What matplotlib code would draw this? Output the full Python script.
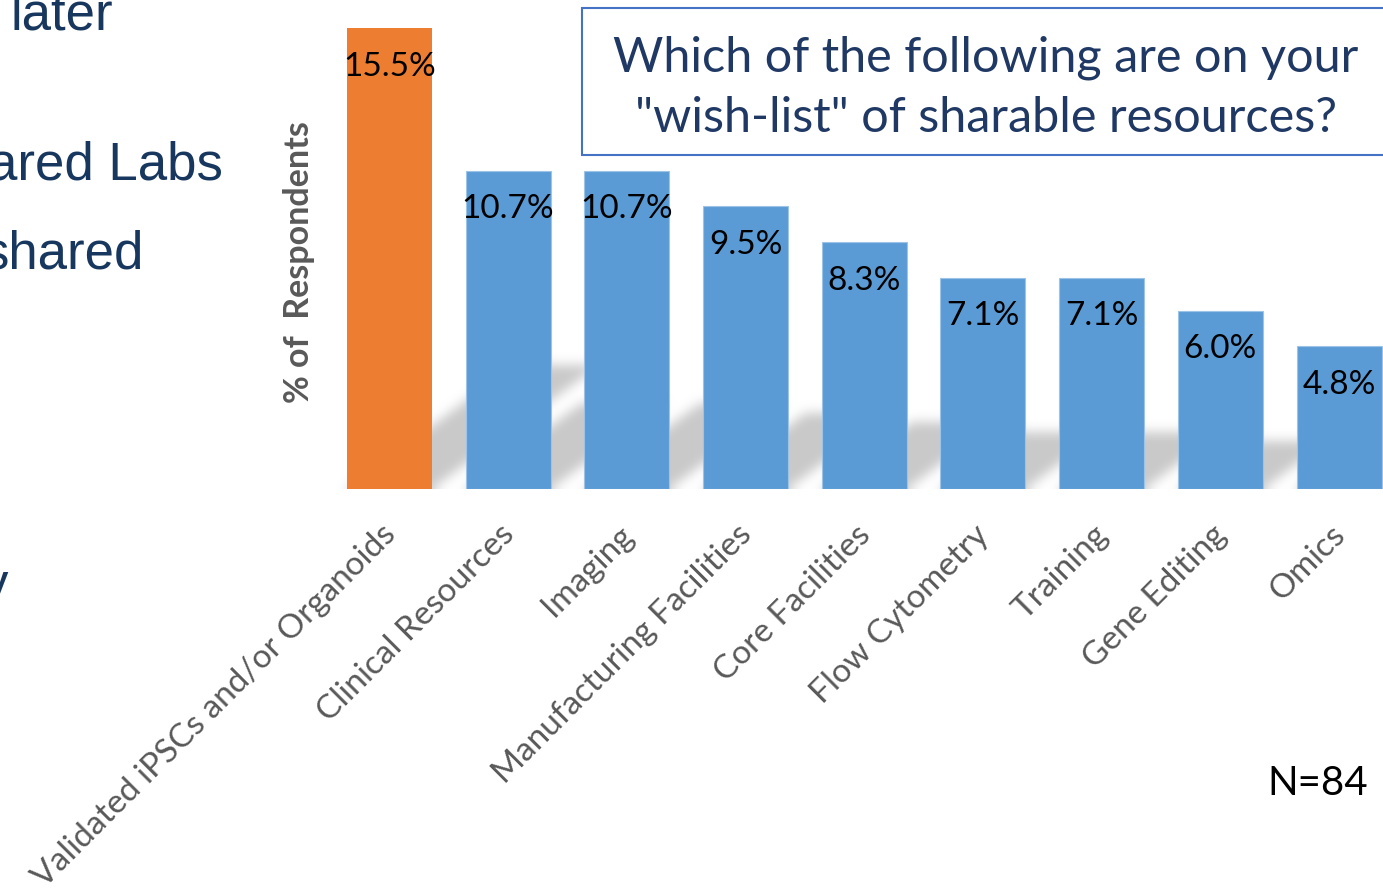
import numpy as np
import matplotlib
matplotlib.use("Agg")
import matplotlib.pyplot as plt
from matplotlib.patches import Rectangle
from matplotlib.transforms import ScaledTranslation

# data
categories = ['Validated iPSCs and/or Organoids', 'Clinical Resources', 'Imaging',
              'Manufacturing Facilities', 'Core Facilities', 'Flow Cytometry',
              'Training', 'Gene Editing', 'Omics']
values = [15.5, 10.7, 10.7, 9.5, 8.3, 7.1, 7.1, 6.0, 4.8]
bar_colors = ['#ED7D31'] + ['#5B9BD5'] * 8
title_lines = ['Which of the following are on your', '"wish-list" of sharable resources?']
slide_text = ['later', 'ared Labs', 'shared', 'y']
n_note = 'N=84'

W, H = 1383, 893
fig = plt.figure(figsize=(W / 100, H / 100), dpi=100)
ax = fig.add_axes([330 / W, (H - 489) / H, (W - 330) / W, 489 / H])

xmin, xmax = -0.5, 8.37
ymin, ymax = 0, 16.44
bw = 0.716
x = np.arange(len(values))

# soft shadow behind the bars (blurred sheared copies of each bar)
ax_w = (W - 330)
ax_h = 489
sx = ax_w / (xmax - xmin)
sy = ax_h / (ymax - ymin)
gx, gy = np.meshgrid(np.arange(ax_w) + 0.5, np.arange(ax_h) + 0.5)
mask = np.zeros((ax_h, ax_w))
for xi, v in zip(x, values):
    t = 0.27 * v * sy
    shift = 1.35
    x0 = (xi - bw / 2 - xmin) * sx
    x1 = (xi + bw / 2 - xmin) * sx
    xs = gx - gy * shift
    inside = (gy <= t) & (xs >= x0) & (xs <= x1)
    mask[inside] = 1.0


def box_blur(a, r):
    for axis in (0, 1):
        pad = [(0, 0), (0, 0)]
        pad[axis] = (r + 1, r)
        c = np.cumsum(np.pad(a, pad, mode='edge'), axis=axis)
        if axis == 0:
            a = (c[2 * r + 1:, :] - c[:-2 * r - 1, :]) / (2 * r + 1)
        else:
            a = (c[:, 2 * r + 1:] - c[:, :-2 * r - 1]) / (2 * r + 1)
    return a


for _ in range(3):
    mask = box_blur(mask, 5)
rgba = np.zeros((ax_h, ax_w, 4))
rgba[..., :3] = 0.79
rgba[..., 3] = np.clip(mask, 0, 1)
ax.imshow(rgba, extent=(xmin, xmax, ymin, ymax), origin='lower',
          aspect='auto', interpolation='bilinear', zorder=1)

bars = ax.bar(x, values, width=bw, color=bar_colors, zorder=2)
for b, c in zip(bars, bar_colors):
    if c == '#5B9BD5':
        b.set_edgecolor('#9DC3E6')
        b.set_linewidth(0.8)

for xi, v in zip(x, values):
    ax.annotate(f'{v:.1f}%', (xi, v), xytext=(0, -17), textcoords='offset points',
                ha='center', va='top', fontsize=24, family='Lato', color='black', zorder=3)

ax.set_xlim(xmin, xmax)
ax.set_ylim(ymin, ymax)
ax.set_xticks(x)
ax.set_xticklabels(categories, rotation=45, ha='right', va='top',
                   rotation_mode='anchor', color='#595959', fontsize=24, family='Lato')
ax.tick_params(axis='x', length=0, pad=22)
off = ScaledTranslation(-9 / 100, 0, fig.dpi_scale_trans)
for lab in ax.get_xticklabels():
    lab.set_transform(lab.get_transform() + off)
ax.set_yticks([])
for s in ax.spines.values():
    s.set_visible(False)
ax.patch.set_alpha(0)

fig.text(299 / W, 1 - 262 / H, '% of  Respondents', rotation=90, ha='center', va='center',
         fontsize=24.5, fontweight='bold', family='Lato', color='#595959')

# question box
fig.patches.append(Rectangle((582 / W, 1 - 155 / H), 1 - 582 / W + 0.02, 147 / H,
                             transform=fig.transFigure, fill=True, facecolor='white',
                             edgecolor='#4472C4', lw=1.5, zorder=5))
fig.text(986 / W, 1 - 71 / H, title_lines[0], ha='center', va='baseline', fontsize=35,
         family='Lato', color='#1F3864', zorder=6)
fig.text(986 / W, 1 - 132 / H, title_lines[1], ha='center', va='baseline', fontsize=35,
         family='Lato', color='#1F3864', zorder=6)

# slide text cut off at the left
fig.text(10 / W, 1 - 30 / H, slide_text[0], ha='left', va='baseline', fontsize=38,
         family='Liberation Sans', color='#17375E')
fig.text(-12 / W, 1 - 180 / H, slide_text[1], ha='left', va='baseline', fontsize=38,
         family='Liberation Sans', color='#17375E')
fig.text(-18 / W, 1 - 268 / H, slide_text[2], ha='left', va='baseline', fontsize=38,
         family='Liberation Sans', color='#17375E')
fig.text(-18 / W, 1 - 600 / H, slide_text[3], ha='left', va='baseline', fontsize=38,
         family='Liberation Sans', color='#17375E')

fig.text(1368 / W, 1 - 795 / H, n_note, ha='right', va='baseline', fontsize=29,
         family='Lato', color='black')

fig.savefig('out.png', dpi=100)
